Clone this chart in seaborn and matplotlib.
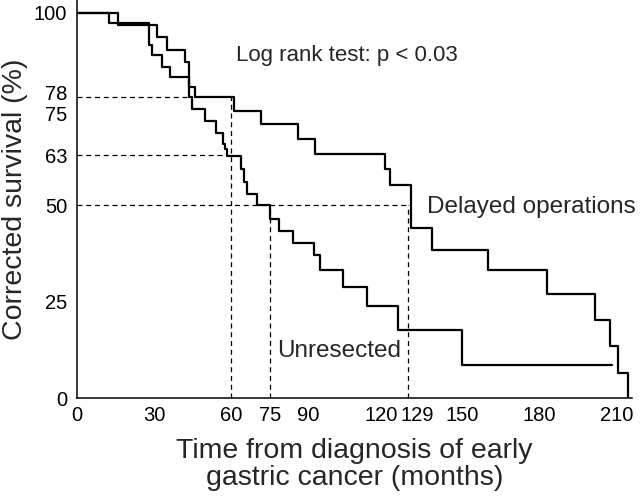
import numpy as np
import pandas as pd
import matplotlib
matplotlib.use("Agg")
import matplotlib.pyplot as plt
import matplotlib.transforms as mtransforms
import seaborn as sns

# ---- data ----
delayed_time = [0, 16, 31, 35, 42, 43.5, 46, 61, 71.5, 86, 92.5, 120, 122, 130, 138, 160, 183, 201.5, 207.5, 210.5, 214.5]
delayed_surv = [100, 96.9, 93.6, 90.2, 87.1, 80.6, 78, 74.6, 71.1, 67.2, 63.4, 59.5, 55.3, 44.2, 38.4, 33.1, 27.1, 20.3, 13.4, 6.4, 0]

unres_time = [0, 12.5, 28, 29, 33, 36, 43.6, 44.8, 50, 54, 57, 57.7, 58.3, 64, 65, 66, 70, 75, 78.5, 84, 92.3, 94.7, 103.7, 113, 125, 150, 208.3]
unres_surv = [100, 97.3, 91.5, 88.9, 85.8, 83.2, 78, 75, 72, 68.9, 65.9, 64.6, 62.8, 59.4, 56, 52.9, 50, 46.5, 43.3, 40.3, 37, 33.3, 28.8, 24, 17.7, 8.6, 8.6]

x_ticks = [0, 30, 60, 75, 90, 120, 129, 150, 180, 210]
y_ticks = [0, 25, 50, 63, 75, 78, 100]

# reference (dashed) lines: horizontal (y, x_end) and vertical (x, y_end)
h_refs = [(78, 44), (63, 58.3), (50, 129)]
v_refs = [(60, 78), (75, 50), (129, 50)]

df = pd.concat([
    pd.DataFrame({"time": delayed_time, "surv": delayed_surv, "group": "Delayed operations"}),
    pd.DataFrame({"time": unres_time, "surv": unres_surv, "group": "Unresected"}),
], ignore_index=True)

sns.set_style("white")
plt.rcParams["font.family"] = ["Liberation Sans", "DejaVu Sans"]

fig = plt.figure(figsize=(6.4, 4.98), dpi=100)
ax = fig.add_axes([77 / 640, 100 / 498, 555 / 640, 398 / 498])

sns.lineplot(data=df, x="time", y="surv", hue="group", palette=["black", "black"],
             estimator=None, sort=False, drawstyle="steps-post", linewidth=1.6,
             legend=False, ax=ax)

for y, xe in h_refs:
    ax.plot([0, xe], [y, y], color="black", lw=0.9, ls=(0, (4, 3)))
for x, ye in v_refs:
    ax.plot([x, x], [0, ye], color="black", lw=0.9, ls=(0, (4, 3)))

ax.set_xlim(0, 216)
ax.set_ylim(0, 103.3)
ax.set_xticks(x_ticks)
ax.set_xticklabels([str(v) for v in x_ticks])
ax.set_yticks(y_ticks)
ax.set_yticklabels([str(v) for v in y_ticks])
ax.tick_params(axis="both", direction="in", length=7, width=1.1, labelsize=14.5,
               color="black", labelcolor="black")
ax.tick_params(axis="x", pad=6)
ax.tick_params(axis="y", pad=7)

for t, v in zip(ax.xaxis.get_major_ticks(), x_ticks):
    if v in (0, 60, 75, 129):
        t.tick1line.set_visible(False)
for t, v in zip(ax.yaxis.get_major_ticks(), y_ticks):
    if v in (0, 50, 63, 78, 100):
        t.tick1line.set_visible(False)

# nudge crowded tick labels apart, as in the reference
def nudge(label, dx_pt, dy_pt):
    label.set_transform(label.get_transform() +
                        mtransforms.ScaledTranslation(dx_pt / 72, dy_pt / 72, fig.dpi_scale_trans))

for lab, v in zip(ax.get_xticklabels(), x_ticks):
    if v == 120:
        nudge(lab, -3, 0)
    elif v == 129:
        nudge(lab, 6, 0)
for lab, v in zip(ax.get_yticklabels(), y_ticks):
    if v == 78:
        nudge(lab, 0, 3.5)
    elif v == 75:
        nudge(lab, 0, -3)

for s in ("top", "right"):
    ax.spines[s].set_visible(False)
for s in ("left", "bottom"):
    ax.spines[s].set_color("black")
    ax.spines[s].set_linewidth(1.1)

ax.set_xlabel("Time from diagnosis of early\ngastric cancer (months)", fontsize=20.5,
              linespacing=1.05, labelpad=9)
ax.set_ylabel("Corrected survival (%)", fontsize=20.5, labelpad=4)

ax.text(62, 87.4, "Log rank test: p < 0.03", fontsize=16, va="baseline", ha="left")
ax.text(136.3, 47.9, "Delayed operations", fontsize=17.5, va="baseline", ha="left")
ax.text(78, 10.7, "Unresected", fontsize=17.5, va="baseline", ha="left")

fig.savefig("out.png", dpi=100)
